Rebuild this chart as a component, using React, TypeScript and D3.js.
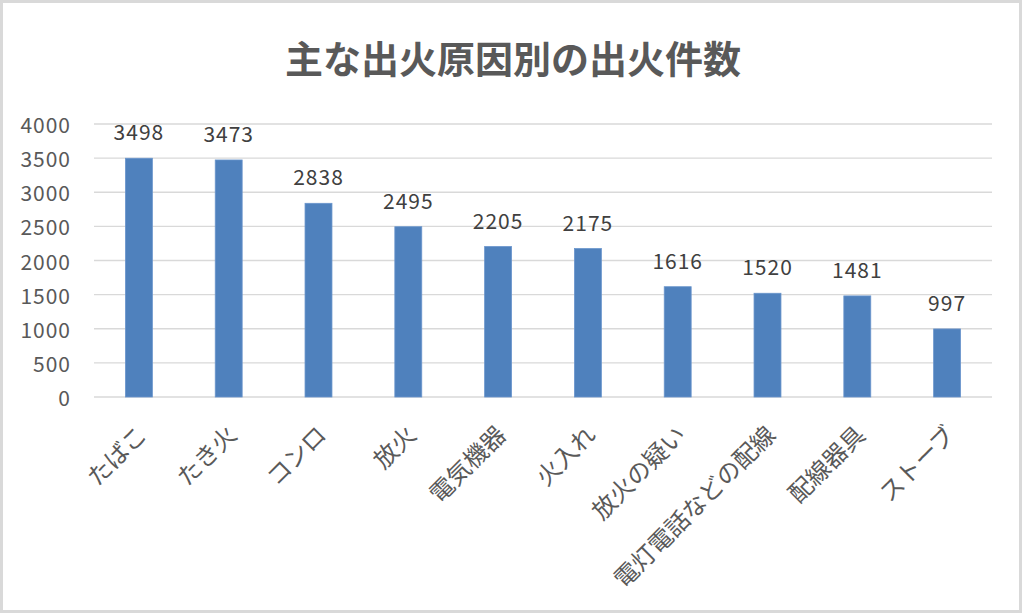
import React from 'react';
import * as d3 from 'd3';

const causes = ['たばこ', 'たき火', 'コンロ', '放火', '電気機器', '火入れ', '放火の疑い', '電灯電話などの配線', '配線器具', 'ストーブ'];
const counts = [3498, 3473, 2838, 2495, 2205, 2175, 1616, 1520, 1481, 997];
const yTicks = [0, 500, 1000, 1500, 2000, 2500, 3000, 3500, 4000];

const W = 1024;
const H = 615;
const FONT = '"Noto Sans CJK JP", "Noto Sans", sans-serif';

export default function App() {
  const margin = { top: 124, right: 32, bottom: 218, left: 94 };
  const plotW = W - margin.left - margin.right;
  const plotH = H - margin.top - margin.bottom;

  const x = d3.scaleBand<string>()
    .domain(causes)
    .range([0, plotW])
    .paddingInner(0.7)
    .paddingOuter(0.35);

  const y = d3.scaleLinear().domain([0, 4000]).range([plotH, 0]);

  return (
    <div>
      <style>{`body{margin:0}`}</style>
      <svg width={W} height={H} style={{ display: 'block', fontFamily: FONT }}>
        <rect x={0} y={0} width={W} height={H} fill="#fff" />
        <rect x={1.5} y={1.5} width={1019} height={610} fill="none" stroke="#d9d9d9" strokeWidth={3} />

        <text x={513} y={56} textAnchor="middle" dominantBaseline="central"
          fontSize={38} fontWeight={700} fill="#595959">
          主な出火原因別の出火件数
        </text>

        <g transform={`translate(${margin.left},${margin.top})`}>
          {/* gridlines */}
          {yTicks.map(t => (
            <line key={t} x1={0} x2={plotW} y1={y(t)} y2={y(t)} stroke="#d9d9d9" strokeWidth={1.3} />
          ))}

          {/* y tick labels */}
          {yTicks.map(t => (
            <text key={'l' + t} x={-23} y={y(t)} textAnchor="end" dominantBaseline="central"
              fontSize={21} letterSpacing={1} fill="#595959">
              {t}
            </text>
          ))}

          {/* bars */}
          {causes.map((c, i) => (
            <rect key={c} x={x(c)} y={y(counts[i])} width={x.bandwidth()} height={plotH - y(counts[i])}
              fill="#4f81bd" stroke="#6a95cc" strokeWidth={0.8} />
          ))}

          {/* value labels */}
          {causes.map((c, i) => (
            <text key={'v' + c} x={(x(c) ?? 0) + x.bandwidth() / 2} y={y(counts[i]) - 18}
              textAnchor="middle" fontSize={21} letterSpacing={1} fill="#404040">
              {counts[i]}
            </text>
          ))}

          {/* category labels */}
          {causes.map(c => {
            const cx = (x(c) ?? 0) + x.bandwidth() / 2;
            return (
              <text key={'c' + c} transform={`translate(${cx + 2},${plotH + 32}) rotate(-45)`}
                textAnchor="end" dominantBaseline="central" fontSize={24} fill="#595959">
                {c}
              </text>
            );
          })}
        </g>
      </svg>
    </div>
  );
}
